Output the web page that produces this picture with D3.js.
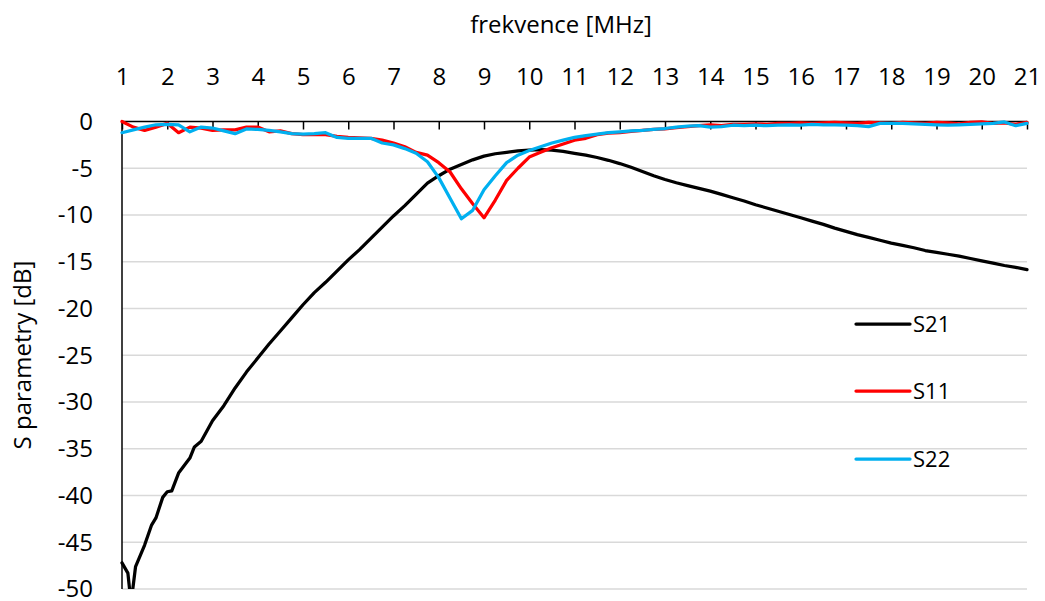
<!DOCTYPE html>
<html>
<head>
<meta charset="utf-8">
<script src="https://cdn.jsdelivr.net/npm/d3@7/dist/d3.min.js"></script>
<style>
  html, body { margin: 0; padding: 0; background: #fff; }
  svg { display: block; }
  text { font-family: "Open Sans", "Noto Sans", sans-serif; fill: #000; }
</style>
</head>
<body>
<svg id="chart" width="1045" height="601"></svg>
<script>
// ---- data ----
const xTicks = [1,2,3,4,5,6,7,8,9,10,11,12,13,14,15,16,17,18,19,20,21];
const yTicks = [0,-5,-10,-15,-20,-25,-30,-35,-40,-45,-50];

const freq = [1,1.25,1.5,1.75,2,2.25,2.5,2.75,3,3.25,3.5,3.75,4,4.25,4.5,4.75,5,5.25,5.5,5.75,
  6,6.25,6.5,6.75,7,7.25,7.5,7.75,8,8.25,8.5,8.75,9,9.25,9.5,9.75,10,10.25,10.5,10.75,
  11,11.25,11.5,11.75,12,12.25,12.5,12.75,13,13.25,13.5,13.75,14,14.25,14.5,14.75,
  15,15.25,15.5,15.75,16,16.25,16.5,16.75,17,17.25,17.5,17.75,18,18.25,18.5,18.75,
  19,19.25,19.5,19.75,20,20.25,20.5,20.75,21];

const s11 = [0,-0.6,-0.95,-0.6,-0.2,-1.2,-0.6,-0.7,-0.95,-0.9,-0.9,-0.6,-0.6,-1.1,-1.0,-1.3,-1.4,-1.4,-1.4,-1.6,
  -1.7,-1.75,-1.8,-2.0,-2.3,-2.7,-3.3,-3.6,-4.4,-5.4,-7.2,-8.8,-10.3,-8.4,-6.3,-5.0,-3.8,-3.3,-2.8,-2.4,
  -2.0,-1.8,-1.4,-1.25,-1.2,-1.05,-0.95,-0.85,-0.8,-0.65,-0.55,-0.45,-0.35,-0.45,-0.3,-0.3,
  -0.25,-0.3,-0.2,-0.2,-0.15,-0.2,-0.15,-0.1,-0.15,-0.2,-0.1,-0.15,-0.2,-0.1,-0.15,-0.2,
  -0.1,-0.15,-0.25,-0.1,-0.05,-0.2,-0.15,-0.3,-0.1];

const s22 = [-1.2,-0.9,-0.6,-0.35,-0.3,-0.35,-1.1,-0.6,-0.7,-1.0,-1.3,-0.8,-0.85,-0.95,-1.1,-1.3,-1.35,-1.3,-1.2,-1.7,
  -1.8,-1.8,-1.8,-2.3,-2.5,-2.9,-3.4,-4.3,-6.0,-8.2,-10.4,-9.5,-7.3,-5.8,-4.4,-3.6,-3.1,-2.7,-2.3,-2.0,
  -1.7,-1.5,-1.35,-1.2,-1.1,-1.0,-0.95,-0.85,-0.75,-0.6,-0.5,-0.45,-0.6,-0.55,-0.4,-0.45,
  -0.4,-0.45,-0.4,-0.35,-0.4,-0.3,-0.35,-0.35,-0.4,-0.45,-0.55,-0.2,-0.2,-0.2,-0.25,-0.3,
  -0.35,-0.4,-0.35,-0.3,-0.25,-0.2,-0.05,-0.45,-0.2];

const s21Freq = [1,1.13,1.2,1.3,1.5,1.65,1.75,1.9,2,2.1,2.25,2.5,2.6,2.75,3,3.25,3.5,3.75,4,4.25,4.5,4.75,5,5.25,5.5,5.75,
  6,6.25,6.5,6.75,7,7.25,7.5,7.75,8,8.25,8.5,8.75,9,9.25,9.5,9.75,10,10.25,10.5,10.75,
  11,11.25,11.5,11.75,12,12.25,12.5,12.75,13,13.25,13.5,13.75,14,14.25,14.5,14.75,
  15,15.25,15.5,15.75,16,16.25,16.5,16.75,17,17.25,17.5,17.75,18,18.25,18.5,18.75,
  19,19.25,19.5,19.75,20,20.25,20.5,20.75,21];

const s21 = [-47.2,-48.3,-51.5,-47.6,-45.3,-43.2,-42.4,-40.2,-39.6,-39.5,-37.6,-36.0,-34.8,-34.2,-32.0,-30.4,-28.5,-26.8,-25.3,-23.8,-22.4,-21.0,-19.6,-18.3,-17.2,-16.0,
  -14.8,-13.7,-12.5,-11.3,-10.1,-9.0,-7.8,-6.6,-5.8,-5.1,-4.6,-4.1,-3.7,-3.45,-3.3,-3.15,-3.05,-3.0,-3.05,-3.2,
  -3.4,-3.6,-3.85,-4.15,-4.5,-4.9,-5.35,-5.8,-6.2,-6.55,-6.85,-7.15,-7.45,-7.8,-8.15,-8.5,
  -8.9,-9.25,-9.6,-9.95,-10.3,-10.65,-11.0,-11.4,-11.75,-12.1,-12.4,-12.7,-13.0,-13.25,-13.5,-13.8,
  -14.0,-14.2,-14.4,-14.65,-14.9,-15.15,-15.4,-15.6,-15.85];

const seriesNames = ["S21", "S11", "S22"];
const seriesColors = ["#000000", "#FF0000", "#00B0F0"];

// ---- layout ----
const L = 122, R = 1027, T = 121.5, B = 589;
const svg = d3.select("#chart");
const x = d3.scaleLinear().domain([1, 21]).range([L, R]);
const y = d3.scaleLinear().domain([-50, 0]).range([B, T]);
const fmt = d => String(d);

// gridlines
svg.append("g")
  .selectAll("line")
  .data(yTicks.filter(d => d !== 0))
  .join("line")
  .attr("x1", L).attr("x2", R)
  .attr("y1", d => y(d)).attr("y2", d => y(d))
  .attr("stroke", "#D9D9D9").attr("stroke-width", 1.5);

// clip
svg.append("clipPath").attr("id", "plotclip")
  .append("rect").attr("x", L - 2).attr("y", T - 4).attr("width", R - L + 4).attr("height", B - T + 4);

// y axis
const yAxis = d3.axisLeft(y).tickValues(yTicks).tickSize(0).tickFormat(fmt);
const gy = svg.append("g").attr("transform", `translate(${L},0)`).call(yAxis);
gy.select(".domain").remove();
gy.selectAll("text").attr("font-size", 24).attr("font-family", "Open Sans").attr("x", 93 - L).attr("dy", "0.33em");
svg.append("line").attr("x1", L).attr("x2", L).attr("y1", T).attr("y2", B)
  .attr("stroke", "#000").attr("stroke-width", 1.5);

// x axis on top (ticks inward)
const xAxis = d3.axisTop(x).tickValues(xTicks).tickSize(0).tickFormat(fmt);
const gx = svg.append("g").attr("transform", `translate(0,${T})`).call(xAxis);
gx.select(".domain").remove();
gx.selectAll("text").attr("font-size", 24).attr("font-family", "Open Sans").attr("y", 85 - T).attr("dy", 0);
gx.selectAll(".tick").append("line").attr("y1", 0).attr("y2", 8).attr("stroke", "#000").attr("stroke-width", 1.5);
svg.append("line").attr("x1", L).attr("x2", R).attr("y1", T).attr("y2", T)
  .attr("stroke", "#000").attr("stroke-width", 1.5);

// series
const line = d3.line().x(d => x(d[0])).y(d => y(d[1]));
const seriesData = [
  d3.zip(s21Freq, s21),
  d3.zip(freq, s11),
  d3.zip(freq, s22)
];
const gLines = svg.append("g").attr("clip-path", "url(#plotclip)");
seriesData.forEach((data, i) => {
  gLines.append("path").datum(data)
    .attr("d", line)
    .attr("fill", "none")
    .attr("stroke", seriesColors[i])
    .attr("stroke-width", 3.25)
    .attr("stroke-linejoin", "round")
    .attr("stroke-linecap", "round");
});

// legend
const legendY = [324, 391, 459];
seriesNames.forEach((name, i) => {
  svg.append("line").attr("x1", 856).attr("x2", 910)
    .attr("y1", legendY[i]).attr("y2", legendY[i])
    .attr("stroke", seriesColors[i]).attr("stroke-width", 3.25).attr("stroke-linecap", "round");
  svg.append("text").attr("x", 913).attr("y", legendY[i]).attr("dy", "0.35em")
    .attr("font-size", 22).text(name);
});

// titles
svg.append("text").attr("x", 561).attr("y", 33).attr("text-anchor", "middle")
  .attr("font-size", 24).text("frekvence [MHz]");
svg.append("text").attr("transform", "translate(31,355) rotate(-90)").attr("text-anchor", "middle")
  .attr("font-size", 24).text("S parametry [dB]");
</script>
</body>
</html>
